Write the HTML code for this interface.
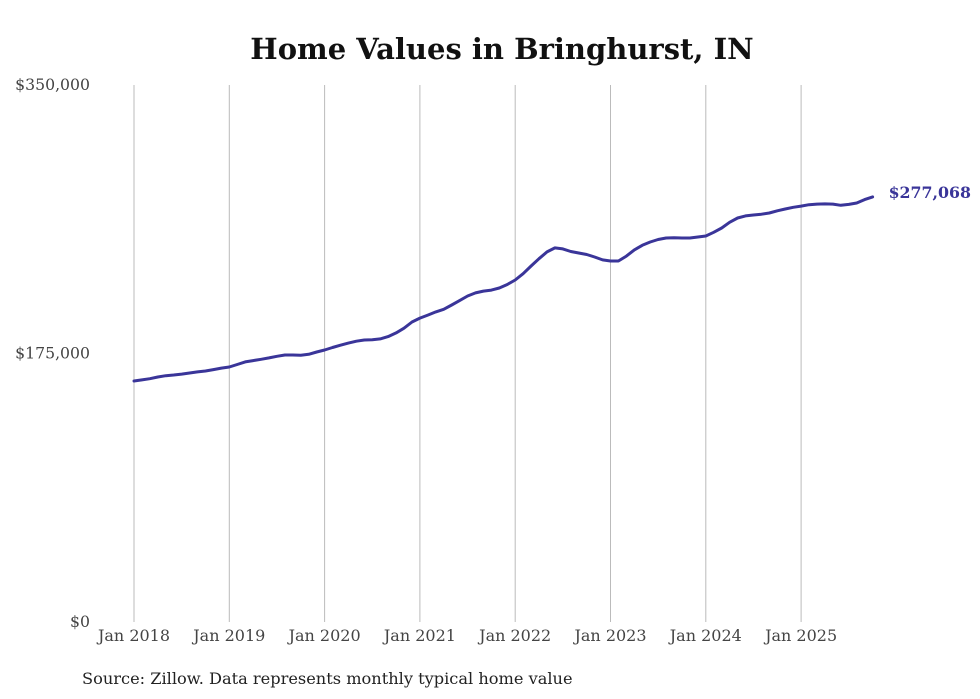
<!DOCTYPE html>
<html><head><meta charset="utf-8"><style>
body{margin:0;background:#fff;}
svg{display:block;font-family:"DejaVu Serif","Liberation Serif",serif;}
</style></head><body>
<svg id="chart" width="980" height="699" viewBox="0 0 980 699">
<text x="502" y="59" text-anchor="middle" font-size="29" font-weight="bold" fill="#111">Home Values in Bringhurst, IN</text>
<g id="grid"></g><g id="yaxis"></g><g id="xaxis"></g><g id="series"></g>
<text x="82" y="684" font-size="16.2" fill="#222">Source: Zillow. Data represents monthly typical home value</text>
</svg>
<script>
const yTicks=[0,175000,350000];
const yTickLabels=["$0","$175,000","$350,000"];
const xTickYears=[2018,2019,2020,2021,2022,2023,2024,2025];
const xTickLabels=["Jan 2018","Jan 2019","Jan 2020","Jan 2021","Jan 2022","Jan 2023","Jan 2024","Jan 2025"];
const startYear=2018;
const valuesK=[
157.1,157.8,158.6,159.7,160.5,161.0,161.6,162.3,163.0,163.6,164.5,165.5,
166.2,167.8,169.5,170.4,171.2,172.1,173.2,174.0,174.0,173.8,174.5,176.0,
177.3,178.9,180.4,181.8,183.0,183.8,184.0,184.5,186.0,188.4,191.5,195.5,
198.1,200.0,202.1,203.8,206.6,209.5,212.5,214.5,215.7,216.3,217.7,220.0,
222.9,227.0,232.0,236.8,241.2,243.8,243.2,241.5,240.5,239.5,237.9,236.0,
235.3,235.3,238.5,242.5,245.5,247.7,249.3,250.3,250.5,250.3,250.3,250.9,
251.6,254.0,256.8,260.5,263.3,264.7,265.3,265.8,266.6,268.0,269.2,270.3,
271.1,272.0,272.4,272.5,272.4,271.6,272.2,273.1,275.3,277.068];
const lastLabel="$277,068";
const NS="http://www.w3.org/2000/svg";
const x=m=>134+m*(95.3/12);
const y=v=>622-v*(537/350000);
function mk(tag,attrs,parent){const e=document.createElementNS(NS,tag);for(const k in attrs)e.setAttribute(k,attrs[k]);parent.appendChild(e);return e;}
const grid=document.getElementById('grid'),ya=document.getElementById('yaxis'),xa=document.getElementById('xaxis'),se=document.getElementById('series');
xTickYears.forEach((yr,i)=>{
 const px=x((yr-startYear)*12);
 const l=mk('line',{x1:px,x2:px,y1:85,y2:622,stroke:'#bbb','stroke-width':1},grid);
 
 
 const t=mk('text',{x:px,y:641,'text-anchor':'middle','font-size':16,fill:'#444'},xa);
 t.textContent=xTickLabels[i];
 
 
});
yTicks.forEach((v,i)=>{
 const t=mk('text',{x:90,y:y(v)+5,'text-anchor':'end','font-size':15.7,fill:'#444'},ya);
 t.textContent=yTickLabels[i];
 
 
});
const d=valuesK.map((v,i)=>(i?'L':'M')+x(i).toFixed(1)+','+y(v*1000).toFixed(1)).join(' ');
const p=mk('path',{d:d,fill:'none',stroke:'#3a3599','stroke-width':3,'stroke-linejoin':'round','stroke-linecap':'round'},se);


const li=valuesK.length-1;
const lt=mk('text',{x:x(li)+16,y:y(valuesK[li]*1000)+1,'font-size':15.8,'font-weight':'bold',fill:'#3a3599'},se);
lt.textContent=lastLabel;


</script>
</body></html>
